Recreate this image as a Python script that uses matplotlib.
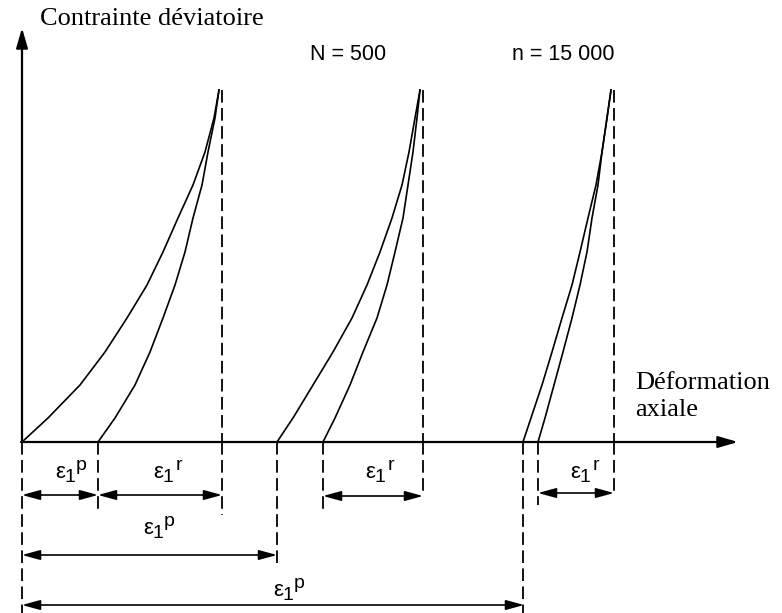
import matplotlib.pyplot as plt

# strain / stress in arbitrary schematic units (origin at the axes crossing)
q_levels = [0, 24, 57, 90, 124, 157, 190, 224, 257, 290, 324, 352]

# loading and unloading branches of the three cycles (first, N = 500, n = 15 000)
load_eps = [
    [0, 26, 58, 83, 105, 125, 141, 156, 171, 183, 192, 197],
    [255, 271, 291, 311, 330, 345, 358, 370, 380, 387, 393, 398],
    [501, 509, 520, 530, 540, 550, 558, 566, 574, 580, 585, 589],
]
unload_eps = [
    [76, 93, 113, 128, 141, 153, 163, 171, 180, 186, 193, 197],
    [301, 313, 328, 341, 355, 365, 373, 381, 386, 391, 395, 398],
    [516, 523, 532, 541, 550, 558, 565, 570, 576, 580, 585, 589],
]
peak_q = 352
peak_eps = [200, 401, 592]

# dashed reference lines below the strain axis: strain and lowest level
drop_eps = [0, 76, 200, 255, 301, 401, 501, 516, 592]
drop_bottom = [-171, -70, -73, -121, -68, -53, -171, -63, -53]

# dimension arrows
dim_start = [0, 76, 301, 516, 0, 0]
dim_end = [76, 200, 401, 592, 255, 502]
dim_level = [-53, -53, -54, -51, -113, -163]
dim_sup = ["p", "r", "r", "r", "p", "p"]
label_eps = [38, 136, 348, 553, 126, 256]
label_q = [-30, -30, -30, -30, -86, -148]

cycle_names = ["N = 500", "n = 15 000"]
cycle_name_eps = [288, 490]

fig = plt.figure(figsize=(7.82, 6.13), dpi=100)
ax = fig.add_axes([0, 0, 1, 1])
ax.set_xlim(-22, 760)
ax.set_ylim(-171, 442)
ax.axis("off")

# axes with arrow heads
axis_arrow = dict(arrowstyle="-|>,head_length=1.2,head_width=0.35",
                  lw=1.6, color="black", shrinkA=0, shrinkB=0)
ax.annotate("", xy=(0, 414), xytext=(0, 0), arrowprops=axis_arrow)
ax.annotate("", xy=(716, 0), xytext=(-1, 0), arrowprops=axis_arrow)

for le, ue in zip(load_eps, unload_eps):
    ax.plot(le, q_levels, color="black", lw=1.2)
    ax.plot(ue, q_levels, color="black", lw=1.2)

for pe in peak_eps:
    ax.plot([pe, pe], [peak_q, 0], color="black", lw=1.3, dashes=(7, 3))

for de, db in zip(drop_eps, drop_bottom):
    ax.plot([de, de], [0, db], color="black", lw=1.3, dashes=(7, 3))

for x0, x1, lv in zip(dim_start, dim_end, dim_level):
    ax.annotate("", xy=(x1, lv), xytext=(x0, lv),
                arrowprops=dict(arrowstyle="<|-|>,head_length=1.1,head_width=0.3",
                                lw=1.2, color="black", shrinkA=0, shrinkB=0))


def strain_label(x, y, sup):
    kw = dict(ha="center", va="center", family="Liberation Sans", color="black")
    ax.text(x, y, "ε", fontsize=16, **kw)
    ax.annotate("1", (x, y), xytext=(7, -4), textcoords="offset points",
                fontsize=14, **kw)
    ax.annotate(sup, (x, y), xytext=(15, 5), textcoords="offset points",
                fontsize=14, **kw)


for lx, ly, s in zip(label_eps, label_q, dim_sup):
    strain_label(lx, ly, s)

serif = dict(family="Liberation Serif", fontsize=19, ha="left", va="center")
ax.text(18, 423, "Contrainte déviatoire", **serif)
ax.text(613, 59, "Déformation", **serif)
ax.text(613, 32, "axiale", **serif)

for name, ne in zip(cycle_names, cycle_name_eps):
    ax.text(ne, 387, name, family="Liberation Sans", fontsize=15.5,
            ha="left", va="center")

fig.savefig("out.png", dpi=100)
